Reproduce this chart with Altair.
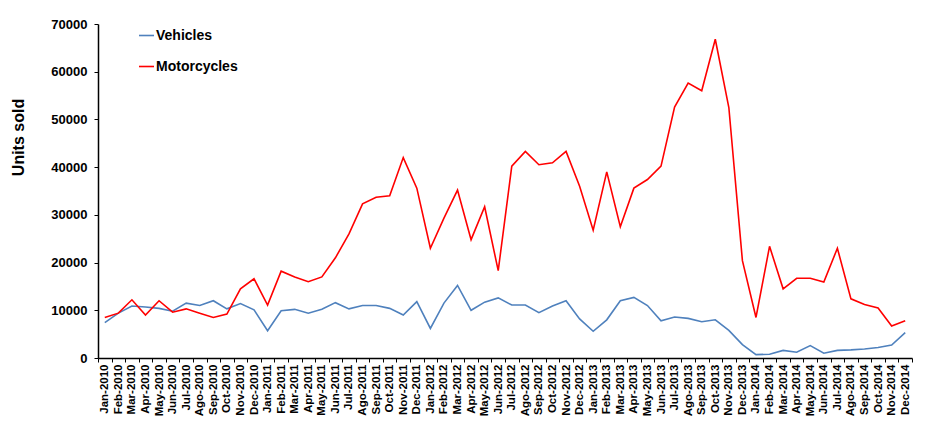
import altair as alt
import pandas as pd

mnames = ["Jan", "Feb", "Mar", "Apr", "May", "Jun", "Jul", "Ago", "Sep", "Oct", "Nov", "Dec"]
years = [2010, 2011, 2012, 2013, 2014]
months = [f"{m}-{y}" for y in years for m in mnames]

vehicles = [
    7400, 9400, 10900, 10700, 10400, 9800, 11500, 11000, 12000, 10300, 11400, 10100,
    5700, 9900, 10200, 9400, 10200, 11600, 10300, 11000, 11000, 10400, 9000, 11800,
    6200, 11500, 15200, 10000, 11700, 12600, 11100, 11100, 9500, 10900, 12000, 8200,
    5600, 8000, 12000, 12700, 11000, 7800, 8600, 8300, 7600, 8000, 5800, 2800,
    700, 800, 1600, 1200, 2600, 1000, 1600, 1700, 1900, 2200, 2700, 5300,
]
motorcycles = [
    8500, 9400, 12200, 9000, 12000, 9600, 10300, 9400, 8500, 9200, 14500, 16600,
    11100, 18200, 17000, 16000, 17000, 21000, 26000, 32300, 33700, 34000, 42000, 35600,
    23000, 29300, 35200, 24800, 31700, 18300, 40200, 43300, 40500, 40900, 43300, 36000,
    26800, 39000, 27500, 35600, 37400, 40200, 52600, 57600, 56000, 66800, 52500, 20400,
    8500, 23400, 14500, 16700, 16700, 15900, 23000, 12400, 11200, 10500, 6700, 7800,
]
series = ["Vehicles", "Motorcycles"]
colors = ["#4F81BD", "#FF0000"]

df = pd.DataFrame({
    "Month": months * 2,
    "Series": [series[0]] * len(months) + [series[1]] * len(months),
    "Units": vehicles + motorcycles,
})

FONT = "Liberation Sans"

chart = alt.Chart(df).mark_line(strokeWidth=1.6).encode(
    x=alt.X(
        "Month:N",
        sort=months,
        scale=alt.Scale(type="band", paddingInner=0, paddingOuter=0),
        axis=alt.Axis(
            title=None, labelAngle=270, labelFont=FONT, labelFontWeight="bold",
            labelFontSize=11.5, labelColor="black", tickBand="extent", tickSize=4,
            tickColor="black", domainColor="black", domainWidth=1.5, tickWidth=1,
            labelPadding=2, labelOverlap=False,
        ),
    ),
    y=alt.Y(
        "Units:Q",
        scale=alt.Scale(domain=[0, 70000], nice=False),
        axis=alt.Axis(
            values=list(range(0, 70001, 10000)), format="d", title="Units sold",
            grid=False, labelFont=FONT, labelFontWeight="bold", labelFontSize=13,
            labelColor="black", tickSize=4, tickColor="black", domainColor="black",
            domainWidth=1.5, titleFont=FONT, titleFontSize=16, titleFontWeight="bold",
            titleColor="black", titleX=-80, titleY=113, titleBaseline="middle",
            labelPadding=7,
        ),
    ),
    color=alt.Color(
        "Series:N",
        sort=series,
        scale=alt.Scale(domain=series, range=colors),
        legend=alt.Legend(
            orient="none", legendX=40, legendY=3, title=None, symbolType="stroke",
            symbolSize=225, symbolStrokeWidth=1.6, labelFont=FONT,
            labelFontWeight="bold", labelFontSize=14, labelColor="black",
            rowPadding=15, labelOffset=1, padding=0,
        ),
    ),
).properties(
    width=814, height=334,
    padding={"left": 90, "top": 16, "right": 5, "bottom": 60},
    autosize="none",
).configure_view(stroke=None)

chart.save("out.html", embed_options={"renderer": "svg", "actions": False})
